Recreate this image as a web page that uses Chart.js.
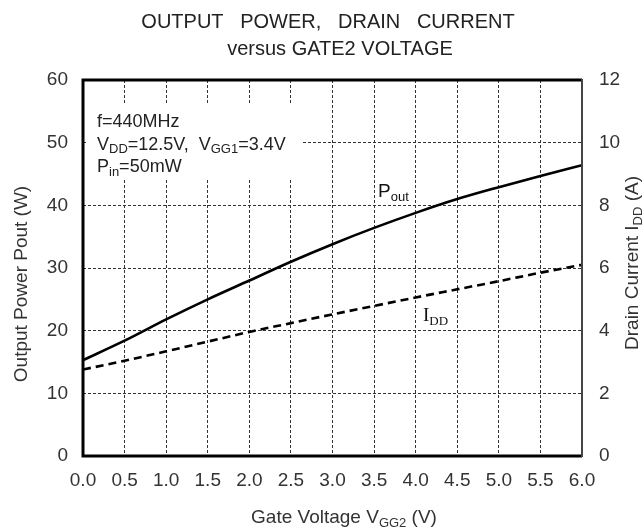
<!DOCTYPE html>
<html><head><meta charset="utf-8">
<script src="https://cdn.jsdelivr.net/npm/chart.js@4"></script>
<style>html,body{margin:0;padding:0;background:#fff}#wrap{width:643px;height:530px}</style>
</head><body><div id="wrap"><canvas id="c" width="643" height="530"></canvas></div>
<script>
// ---- data ----
const gateVoltage = [0.0, 0.5, 1.0, 1.5, 2.0, 2.5, 3.0, 3.5, 4.0, 4.5, 5.0, 5.5, 6.0];
const outputPower = [15.3, 18.4, 21.8, 25.0, 28.0, 31.0, 33.8, 36.4, 38.8, 41.0, 42.9, 44.7, 46.4];
const drainCurrent = [2.76, 3.04, 3.34, 3.65, 3.96, 4.24, 4.52, 4.79, 5.06, 5.32, 5.58, 5.85, 6.1];
const titleLines = ["OUTPUT   POWER,   DRAIN   CURRENT", "versus GATE2 VOLTAGE"];
const conditionLines = [
  [["f=440MHz", false]],
  [["V", false], ["DD", true], ["=12.5V,  V", false], ["GG1", true], ["=3.4V", false]],
  [["P", false], ["in", true], ["=50mW", false]]
];
const leftTitle = [["Output Power Pout (W)", false]];
const rightTitle = [["Drain Current I", false], ["DD", true], [" (A)", false]];
const bottomTitle = [["Gate Voltage V", false], ["GG2", true], [" (V)", false]];
const poutLabel = [["P", false], ["out", true]];
const iddLabel = [["I", false], ["DD", true]];

const FONT = "'Liberation Sans', Arial, sans-serif";
const SERIF = "'Liberation Serif', 'Times New Roman', serif";

function richWidth(ctx, parts, size, family) {
  let w = 0;
  for (const [t, sub] of parts) {
    ctx.font = (sub ? Math.round(size * 0.7) : size) + "px " + family;
    w += ctx.measureText(t).width;
  }
  return w;
}
function drawRich(ctx, parts, x, y, align, size, family, color) {
  const w = richWidth(ctx, parts, size, family);
  let cx = align === "center" ? x - w / 2 : (align === "right" ? x - w : x);
  ctx.fillStyle = color;
  ctx.textAlign = "left";
  ctx.textBaseline = "alphabetic";
  for (const [t, sub] of parts) {
    ctx.font = (sub ? Math.round(size * 0.7) : size) + "px " + family;
    ctx.fillText(t, cx, sub ? y + size * 0.2 : y);
    cx += ctx.measureText(t).width;
  }
}

const decor = {
  id: "decor",
  beforeDatasetsDraw(chart) {
    const ctx = chart.ctx;
    ctx.save();
    ctx.fillStyle = "#fff";
    ctx.fillRect(88, 105, 214, 75);
    ctx.restore();
  },
  afterDraw(chart) {
    const ctx = chart.ctx;
    const a = chart.chartArea;
    ctx.save();
    // frame
    ctx.strokeStyle = "#000";
    ctx.lineWidth = 3;
    ctx.beginPath();
    ctx.moveTo(a.right, a.top);
    ctx.lineTo(a.left, a.top);
    ctx.lineTo(a.left, a.bottom);
    ctx.lineTo(a.right, a.bottom);
    ctx.stroke();
    ctx.strokeStyle = "#444";
    ctx.lineWidth = 2;
    ctx.beginPath();
    ctx.moveTo(a.right, a.top - 1);
    ctx.lineTo(a.right, a.bottom + 1);
    ctx.stroke();
    // title
    ctx.font = "20px " + FONT;
    ctx.fillStyle = "#222";
    ctx.textAlign = "center";
    ctx.fillText(titleLines[0], 328, 28);
    ctx.fillText(titleLines[1], 340, 55);
    // conditions
    conditionLines.forEach((ln, i) => drawRich(ctx, ln, 97, 127 + i * 22.5, "left", 18, FONT, "#222"));
    drawRich(ctx, poutLabel, 378, 197, "left", 19, FONT, "#111");
    drawRich(ctx, iddLabel, 423, 321, "left", 19, SERIF, "#111");
    // axis titles
    drawRich(ctx, bottomTitle, 344, 523, "center", 19, FONT, "#333");
    ctx.translate(27, 284);
    ctx.rotate(-Math.PI / 2);
    drawRich(ctx, leftTitle, 0, 0, "center", 19, FONT, "#333");
    ctx.rotate(Math.PI / 2);
    ctx.translate(-27, -284);
    ctx.translate(638, 263);
    ctx.rotate(-Math.PI / 2);
    drawRich(ctx, rightTitle, 0, 0, "center", 19, FONT, "#333");
    ctx.restore();
  }
};

const gridOpts = { color: "#333", lineWidth: 1, drawTicks: false };
const tickFont = { family: FONT, size: 19 };

new Chart(document.getElementById("c"), {
  type: "line",
  data: {
    datasets: [
      { label: "Pout", data: gateVoltage.map((v, i) => ({ x: v, y: outputPower[i] })), yAxisID: "y",
        borderColor: "#000", borderWidth: 2.6, pointRadius: 0, cubicInterpolationMode: "monotone", fill: false },
      { label: "IDD", data: gateVoltage.map((v, i) => ({ x: v, y: drainCurrent[i] })), yAxisID: "y1",
        borderColor: "#000", borderWidth: 2.6, borderDash: [8, 5], pointRadius: 0, cubicInterpolationMode: "monotone", fill: false }
    ]
  },
  options: {
    responsive: false, animation: false, devicePixelRatio: 1,
    layout: { padding: { top: 80, left: 0, right: 0, bottom: 0 } },
    plugins: { legend: { display: false }, tooltip: { enabled: false }, title: { display: false } },
    scales: {
      x: { type: "linear", min: 0, max: 6,
        ticks: { stepSize: 0.5, callback: v => v.toFixed(1), color: "#333", font: tickFont, padding: 13, maxRotation: 0, autoSkip: false },
        grid: gridOpts, border: { display: false, dash: [3, 2] },
        afterFit: s => { s.height = 74; } },
      y: { position: "left", min: 0, max: 60,
        ticks: { stepSize: 10, color: "#333", font: tickFont, padding: 15 },
        grid: gridOpts, border: { display: false, dash: [3, 2] },
        afterFit: s => { s.width = 83; } },
      y1: { position: "right", min: 0, max: 12,
        ticks: { stepSize: 2, color: "#333", font: tickFont, padding: 17 },
        grid: { drawOnChartArea: false, drawTicks: false }, border: { display: false },
        afterFit: s => { s.width = 61; } }
    }
  },
  plugins: [decor]
});
</script>
</body></html>
